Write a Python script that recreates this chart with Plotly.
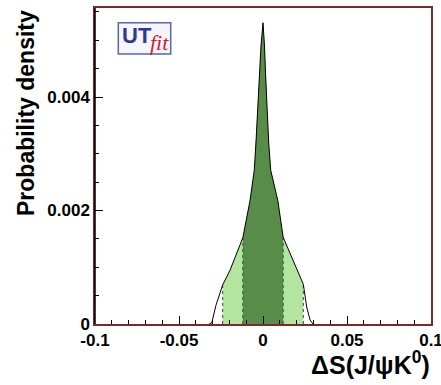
import plotly.graph_objects as go

# Data
delta_s = [-0.032, -0.0305, -0.028, -0.024, -0.0196, -0.0157, -0.012, -0.0077, -0.0052,
           -0.0042, -0.0022, -0.0012, 0.0, 0.0009, 0.0016, 0.0034, 0.0046, 0.0088,
           0.012, 0.016, 0.0196, 0.024, 0.026, 0.028, 0.0298]
density = [0.0, 0.00002, 0.00033, 0.00069, 0.00095, 0.00125, 0.00152, 0.00218, 0.00271,
           0.00319, 0.00435, 0.0049, 0.00531, 0.0049, 0.00435, 0.00319, 0.00271, 0.00218,
           0.00153, 0.00125, 0.00099, 0.0007, 0.0003, 0.00007, 0.0]
band_68 = (-0.012, 0.012)
band_95 = (-0.024, 0.024)
x_ticks = [-0.1, -0.05, 0, 0.05, 0.1]
x_tick_text = ["-0.1", "-0.05", "0", "0.05", "0.1"]
y_ticks = [0, 0.002, 0.004]
y_tick_text = ["0", "0.002", "0.004"]

DARK = "#578d48"
LIGHT = "#b3e5a0"
FRAME_RED = "#7a2a2a"

W, H = 441, 385
L, R, T, B = 95, 431, 8, 324


def px(xp):
    return (xp - L) / (R - L)


def py(yp):
    return (B - yp) / (B - T)


def subset(lo, hi):
    xs, ys = [], []
    for x, y in zip(delta_s, density):
        if lo - 1e-12 <= x <= hi + 1e-12:
            xs.append(x)
            ys.append(y)
    return xs, ys


fig = go.Figure()

x95, y95 = subset(*band_95)
fig.add_trace(go.Scatter(x=x95, y=y95, mode="lines", fill="tozeroy",
                         fillcolor=LIGHT, line=dict(width=0, color=LIGHT),
                         hoverinfo="skip", showlegend=False))
x68, y68 = subset(*band_68)
fig.add_trace(go.Scatter(x=x68, y=y68, mode="lines", fill="tozeroy",
                         fillcolor=DARK, line=dict(width=0, color=DARK),
                         hoverinfo="skip", showlegend=False))

# dotted band edges
for edge in [band_95[0], band_68[0], band_68[1], band_95[1]]:
    i = delta_s.index(edge)
    fig.add_trace(go.Scatter(x=[edge, edge], y=[0, density[i]], mode="lines",
                             line=dict(color="#3a4a36", width=1, dash="dot"),
                             hoverinfo="skip", showlegend=False))

fig.add_trace(go.Scatter(x=delta_s, y=density, mode="lines",
                         line=dict(color="black", width=1),
                         showlegend=False))

FONT = "Liberation Sans, Arial, sans-serif"
tick_font = dict(family=FONT, size=17, color="black", weight="bold")

fig.update_layout(
    width=W, height=H,
    margin=dict(l=L, r=W - R, t=T, b=H - B),
    paper_bgcolor="white", plot_bgcolor="white",
    xaxis=dict(range=[-0.1, 0.1], tickvals=x_ticks, ticktext=x_tick_text,
               ticks="inside", ticklen=8, tickwidth=1, tickcolor="black",
               minor=dict(dtick=0.01, ticks="inside", ticklen=4,
                          tickcolor="black", showgrid=False),
               showgrid=False, zeroline=False, showline=True,
               linecolor=FRAME_RED, linewidth=1.5, mirror=True, automargin=False,
               tickfont=tick_font, ticklabeloverflow="allow", fixedrange=True),
    yaxis=dict(range=[0, 0.00557], tickvals=y_ticks, ticktext=y_tick_text,
               ticks="inside", ticklen=8, tickwidth=1, tickcolor="black",
               minor=dict(dtick=0.0005, ticks="inside", ticklen=4,
                          tickcolor="black", showgrid=False),
               showgrid=False, zeroline=False, showline=True,
               linecolor=FRAME_RED, linewidth=1.5, mirror=True, automargin=False,
               tickfont=tick_font, ticklabeloverflow="allow", fixedrange=True),
    shapes=[
        dict(type="line", xref="paper", yref="paper", x0=0, x1=0, y0=0, y1=1,
             line=dict(color="black", width=1.5)),
        dict(type="rect", xref="paper", yref="paper",
             x0=px(118.3), x1=px(170.7), y0=py(54), y1=py(22.7),
             fillcolor="#f5f5fb", line=dict(color="#5a66a8", width=1.5)),
    ],
    annotations=[
        dict(text="<b>Probability density</b>", textangle=-90,
             xref="paper", yref="paper", x=px(26), y=py(113),
             xanchor="center", yanchor="middle", showarrow=False,
             font=dict(family=FONT, size=23, color="black")),
        dict(text="<b>ΔS(J/ψK<sup>0</sup>)</b>",
             xref="paper", yref="paper", x=px(432), y=py(363),
             xanchor="right", yanchor="middle", showarrow=False,
             font=dict(family=FONT, size=25, color="black")),
        dict(text="<b>UT</b>", xref="paper", yref="paper", x=px(120), y=py(35),
             xanchor="left", yanchor="middle", showarrow=False,
             font=dict(family=FONT, size=22, color="#2e3a8a")),
        dict(text="<i>fit</i>", xref="paper", yref="paper", x=px(148), y=py(42),
             xanchor="left", yanchor="middle", showarrow=False,
             font=dict(family="Liberation Serif, serif", size=22, color="#d0202a")),
    ],
)

fig.write_html("out.html")
